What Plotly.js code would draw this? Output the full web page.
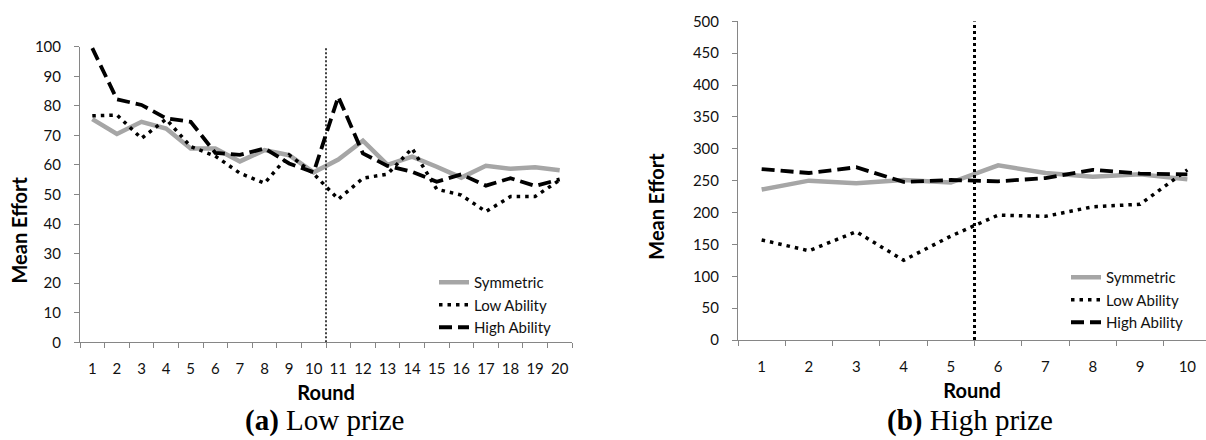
<!DOCTYPE html>
<html>
<head>
<meta charset="utf-8">
<script src="https://cdn.plot.ly/plotly-3.0.1.min.js"></script>
<style>
  html, body { margin: 0; padding: 0; background: #ffffff; }
  #chart { width: 1206px; height: 440px; }
</style>
</head>
<body>
<div id="chart"></div>
<script>
// ---- Data: panel (a) Low prize ----
const roundsLow = ["1","2","3","4","5","6","7","8","9","10","11","12","13","14","15","16","17","18","19","20"];
const symmetricLow = [75.5, 70.5, 74.6, 72.3, 65.6, 65.6, 61.2, 65.0, 63.3, 57.5, 61.8, 68.2, 60.0, 62.8, 59.4, 55.7, 59.7, 58.7, 59.2, 58.2];
const lowAbilityLow = [76.6, 76.9, 69.0, 75.5, 66.2, 63.0, 57.2, 53.8, 63.4, 57.0, 48.4, 55.5, 56.9, 65.6, 51.8, 49.8, 44.2, 49.3, 49.3, 54.9];
const highAbilityLow = [99.5, 82.2, 80.3, 75.8, 74.6, 64.1, 63.4, 65.6, 60.5, 57.5, 83.1, 63.9, 59.7, 57.7, 54.3, 56.8, 53.0, 55.5, 52.9, 55.1];

// ---- Data: panel (b) High prize ----
const roundsHigh = ["1","2","3","4","5","6","7","8","9","10"];
const symmetricHigh = [236, 250, 246, 251, 247, 274, 262, 256, 260, 252];
const lowAbilityHigh = [157, 140, 170, 125, 163, 196, 194, 209, 213, 267];
const highAbilityHigh = [268, 262, 271, 248, 251, 249, 254, 267, 261, 260];

const seriesNames = ["Symmetric", "Low Ability", "High Ability"];
const yTitle = "Mean Effort";
const xTitle = "Round";
const captionA = "<b>(a)</b> Low prize";
const captionB = "<b>(b)</b> High prize";

// ---- Styles ----
const W = 1206, H = 440;
const px = v => v / W;
const py = v => 1 - v / H;
const grey = "#A6A6A6";
const axisGrey = "#868686";
const tickFont = { family: "Lato, 'Open Sans', sans-serif", size: 15, color: "#111" };
const titleFont = { family: "Lato, 'Open Sans', sans-serif", size: 20, color: "#000", weight: 700 };
const legendFont = { family: "Lato, 'Open Sans', sans-serif", size: 15, color: "#111" };
const capFont = { family: "'Liberation Serif', 'DejaVu Serif', serif", size: 29, color: "#000" };

const styles = [
  { color: grey, width: 4.5, dash: "solid" },
  { color: "#000", width: 3.5, dash: "3.5px,5px" },
  { color: "#000", width: 3.8, dash: "13px,6px" }
];

function mk(x, y, i, xa, ya, leg) {
  return {
    type: "scatter", mode: "lines", x: x, y: y, name: seriesNames[i],
    xaxis: xa, yaxis: ya, legend: leg,
    line: { color: styles[i].color, width: styles[i].width, dash: styles[i].dash },
    hoverinfo: "x+y+name"
  };
}

const traces = [
  mk(roundsLow, symmetricLow, 0, "x", "y", "legend"),
  mk(roundsLow, lowAbilityLow, 1, "x", "y", "legend"),
  mk(roundsLow, highAbilityLow, 2, "x", "y", "legend"),
  mk(roundsHigh, symmetricHigh, 0, "x2", "y2", "legend2"),
  mk(roundsHigh, lowAbilityHigh, 1, "x2", "y2", "legend2"),
  mk(roundsHigh, highAbilityHigh, 2, "x2", "y2", "legend2")
];

const xCommon = {
  type: "category", showline: true, linecolor: axisGrey, linewidth: 1,
  ticks: "outside", tickson: "boundaries", ticklen: 5, tickcolor: axisGrey, tickwidth: 1,
  showgrid: false, zeroline: false, tickfont: tickFont, fixedrange: true,
  tickangle: 0, ticklabelstandoff: 13,
  title: { text: "<b>" + xTitle + "</b>", font: titleFont, standoff: 9 }
};
const yCommon = {
  showline: true, linecolor: axisGrey, linewidth: 1,
  ticks: "outside", ticklen: 5, tickcolor: axisGrey, tickwidth: 1,
  showgrid: false, zeroline: false, tickfont: tickFont, fixedrange: true,
  ticklabelstandoff: 10
};

const layout = {
  width: W, height: H,
  margin: { l: 0, r: 0, t: 0, b: 0 },
  paper_bgcolor: "#ffffff", plot_bgcolor: "#ffffff",
  showlegend: true,
  xaxis: Object.assign({}, xCommon, { domain: [px(80), px(572)], range: [-0.5, 19.5], anchor: "y" }),
  yaxis: Object.assign({}, yCommon, { domain: [py(342.3), py(46.7)], range: [0, 100], dtick: 10, tick0: 0, anchor: "x" }),
  xaxis2: Object.assign({}, xCommon, { domain: [px(738), 1], range: [-0.5, 9.394], anchor: "y2" }),
  yaxis2: Object.assign({}, yCommon, { domain: [py(340), py(21.3)], range: [0, 500], dtick: 50, tick0: 0, anchor: "x2" }),
  legend: {
    x: px(434), y: py(266), xanchor: "left", yanchor: "top",
    bgcolor: "rgba(0,0,0,0)", borderwidth: 0, font: legendFont,
    tracegroupgap: 0, traceorder: "normal"
  },
  legend2: {
    x: px(1066), y: py(261), xanchor: "left", yanchor: "top",
    bgcolor: "rgba(0,0,0,0)", borderwidth: 0, font: legendFont,
    tracegroupgap: 0, traceorder: "normal"
  },
  shapes: [
    { type: "line", xref: "x", yref: "y", x0: 9.5, x1: 9.5, y0: 0, y1: 100,
      line: { color: "#000", width: 1.5, dash: "2px,2px" } },
    { type: "line", xref: "x2", yref: "y2", x0: 4.5, x1: 4.5, y0: 0, y1: 500,
      line: { color: "#000", width: 3, dash: "3px,3px" } }
  ],
  annotations: [
    { xref: "paper", yref: "paper", x: px(18.5), y: py(230), text: "<b>" + yTitle + "</b>",
      textangle: -90, showarrow: false, font: titleFont, xanchor: "center", yanchor: "middle" },
    { xref: "paper", yref: "paper", x: px(656), y: py(206.7), text: "<b>" + yTitle + "</b>",
      textangle: -90, showarrow: false, font: titleFont, xanchor: "center", yanchor: "middle" },
    { xref: "paper", yref: "paper", x: px(324), y: 0.002, text: captionA,
      showarrow: false, font: capFont, xanchor: "center", yanchor: "bottom" },
    { xref: "paper", yref: "paper", x: px(970), y: 0.002, text: captionB,
      showarrow: false, font: capFont, xanchor: "center", yanchor: "bottom" }
  ]
};

Plotly.newPlot("chart", traces, layout, { displayModeBar: false, responsive: false, staticPlot: false });
</script>
</body>
</html>
